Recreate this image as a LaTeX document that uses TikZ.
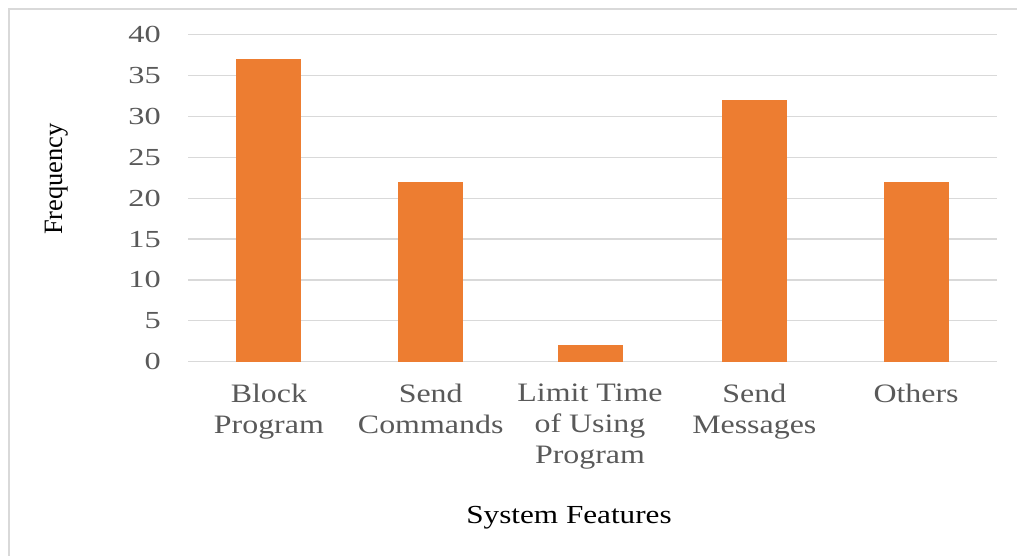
\documentclass[tikz,border=0pt]{standalone}
\usepackage{fontspec}
\setmainfont{Liberation Serif}
% widened serif faces for the chart texts
\newfontfamily\catfont[FakeStretch=1.2]{Liberation Serif}
\newfontfamily\tickfont[FakeStretch=1.32]{Liberation Serif}
\definecolor{barorange}{HTML}{ED7D31}
\definecolor{gridgray}{HTML}{D9D9D9}
\definecolor{labelgray}{HTML}{595959}
\tikzset{
  frameline/.style={draw=gridgray, line width=1.8pt},
  gridline/.style={draw=gridgray, line width=1.3pt},
  bar/.style={fill=barorange},
  ticklabel/.style={anchor=east, inner sep=0pt, text=labelgray,
    font=\tickfont\fontsize{24.5}{29}\selectfont},
  catlabel/.style={anchor=north, inner sep=0pt, align=center, text=labelgray,
    font=\catfont\fontsize{26.6}{31}\selectfont},
  axistitle/.style={anchor=base, inner sep=0pt, text=black},
}
\begin{document}
\begin{tikzpicture}[x=1pt, y=-1pt]
\useasboundingbox (0,0) rectangle (1017,556);

% chart frame (open towards right and bottom)
\draw[frameline] (9,556) -- (9,9) -- (1017,9);

% value axis: gridlines and their labels
\foreach \v in {0,5,...,40}{
  \pgfmathsetmacro{\yy}{361.7-8.175*\v}
  \draw[gridline] (188,\yy) -- (997,\yy);
  \node[ticklabel] (tick\v) at (161,\yy) {\v};
}

% bars and category labels
\foreach \i/\cx/\v/\lab in {
    1/268.9/37/{Block\\Program},
    2/430.7/22/{Send\\Commands},
    3/590/2/{Limit Time\\of Using\\Program},
    4/754.3/32/{Send\\Messages},
    5/916.1/22/{Others}}{
  \pgfmathsetmacro{\yy}{361.7-8.175*\v}
  \fill[bar] (\cx-32.5,361.7) rectangle (\cx+32.5,\yy);
  \node[catlabel] (cat\i) at (\cx,383.5) {\lab};
}

% axis titles
\node[axistitle, rotate=90, font=\fontsize{26.5}{31}\selectfont] (ytitle) at (62,179) {Frequency};
\node[axistitle, font=\catfont\fontsize{26}{31}\selectfont] (xtitle) at (569,523) {System Features};
\end{tikzpicture}
\end{document}
